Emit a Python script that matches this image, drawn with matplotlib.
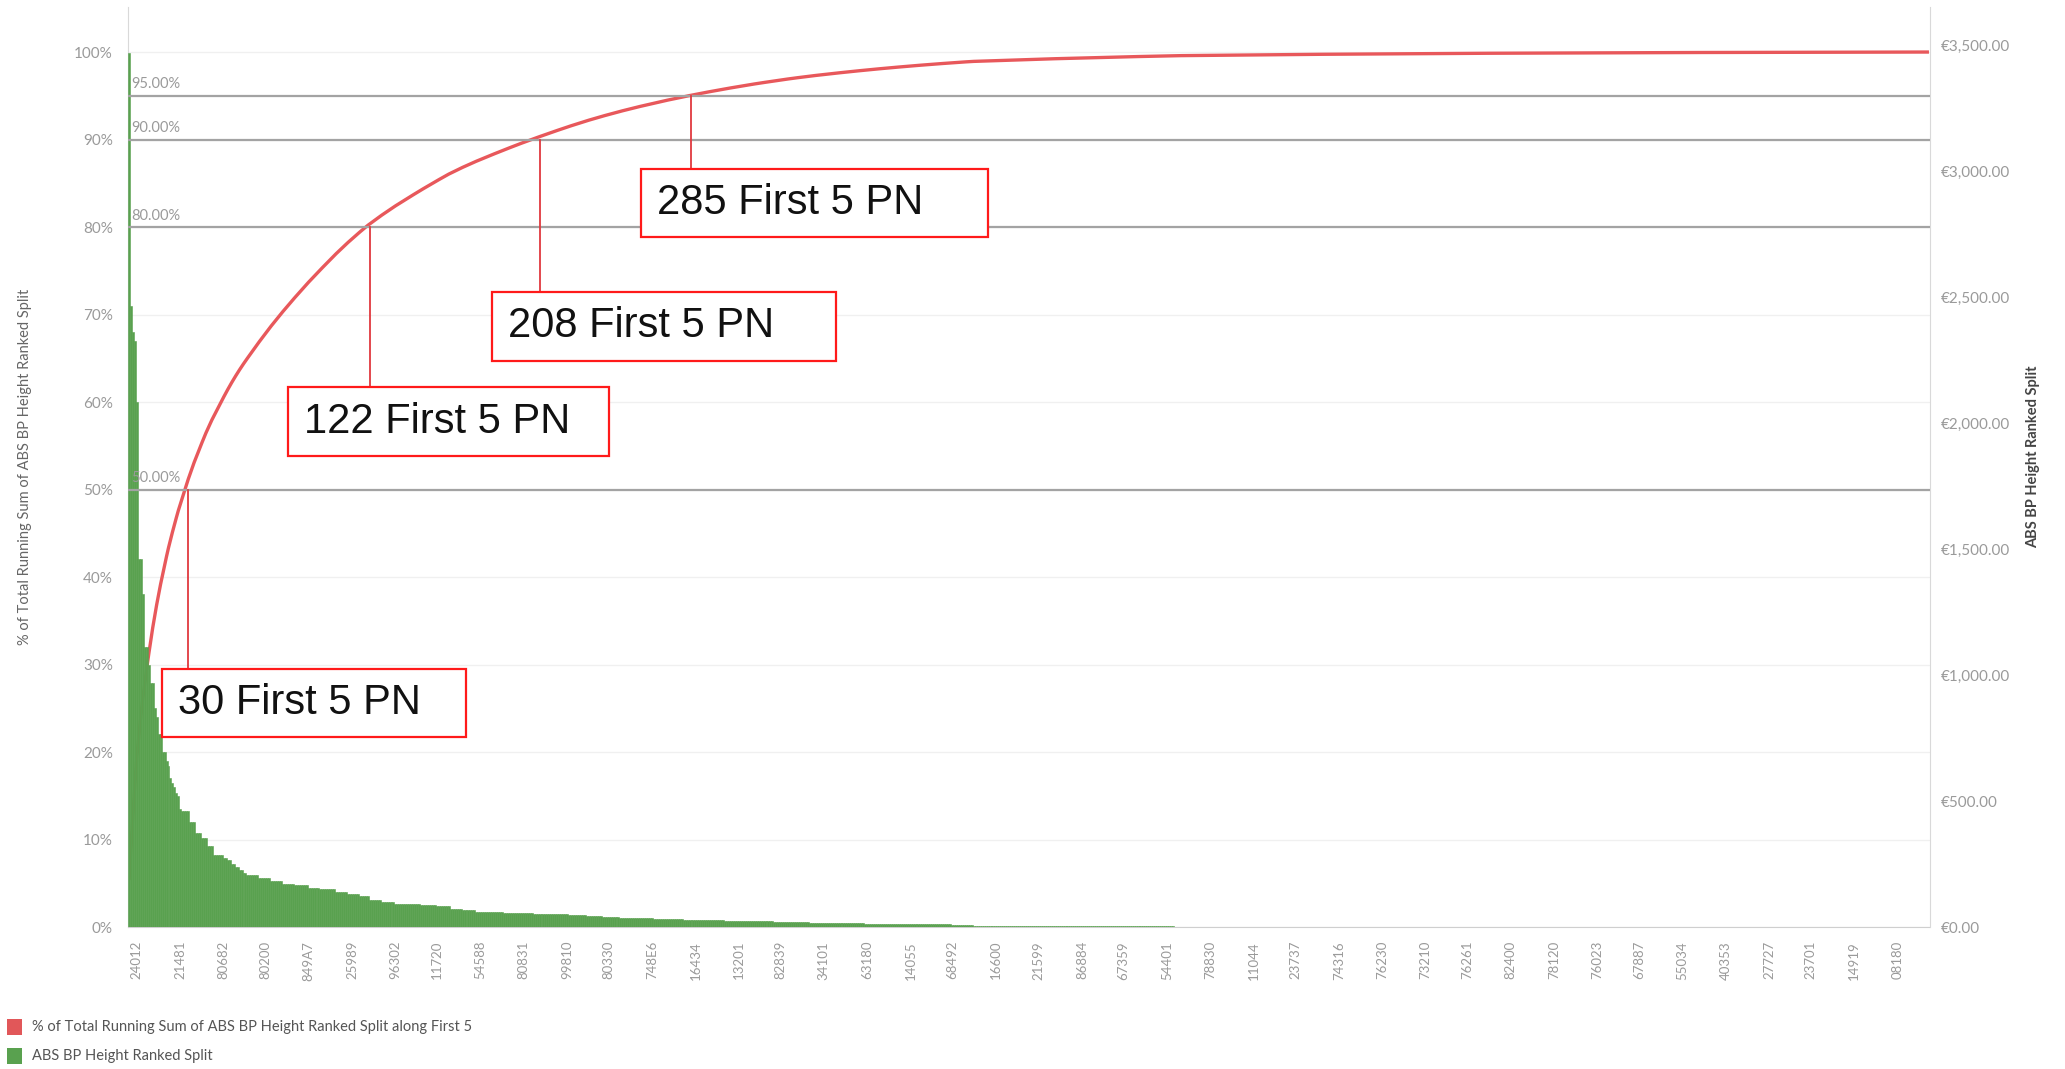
import numpy as np
import matplotlib.pyplot as plt
from matplotlib.patches import Rectangle
from matplotlib.ticker import FuncFormatter

plt.rcParams['font.family'] = ['Lato', 'DejaVu Sans']

# ABS BP Height Ranked Split (EUR), ranked high -> low.
bar_levels = [3470, 2465, 2360, 2325, 2085, 1460, 1320, 1110, 1040, 970,
              870, 835, 765, 695, 660, 640, 590, 570, 555, 530,
              520, 470, 460, 415, 375, 355, 320, 285, 275, 265,
              250, 238, 226, 214, 205, 195, 182, 172, 165, 155,
              150, 140, 130, 122, 108, 100, 92, 90, 86, 82,
              72, 66, 61, 59, 57, 54, 52, 50, 47, 43,
              40, 37, 34, 33, 31, 29, 27, 25, 24, 22,
              21, 19, 17, 16, 15, 14, 13, 12, 11, 10,
              5, 4, 3.5, 1.5, 1.0, 0.6, 0.3]
bar_runs = [1, 1, 1, 1, 1, 2, 1, 2, 1, 2,
            1, 1, 2, 2, 1, 1, 1, 1, 1, 1,
            1, 1, 4, 3, 3, 3, 3, 5, 2, 2,
            2, 2, 2, 2, 6, 6, 6, 6, 7, 6,
            8, 6, 6, 5, 6, 7, 6, 7, 8, 7,
            6, 7, 6, 8, 8, 7, 9, 9, 9, 8,
            9, 9, 8, 8, 7, 10, 11, 8, 9, 8,
            9, 9, 8, 10, 10, 10, 11, 11, 12, 11,
            34, 34, 34, 60, 80, 100, 143]

# part numbers shown on the x axis (every ~22nd part)
tick_labels = ['24012', '21481', '80682', '80200', '849A7', '25989', '96302',
               '11720', '54588', '80831', '99810', '80330', '748E6', '16434',
               '13201', '82839', '34101', '63180', '14055', '68492', '16600',
               '21599', '86884', '67359', '54401', '78830', '11044', '23737',
               '74316', '76230', '73210', '76261', '82400', '78120', '76023',
               '67887', '55034', '40353', '27727', '23701', '14919', '08180']

# reference lines and the number of parts needed to reach them
ref_levels = [0.50, 0.80, 0.90, 0.95]
ref_counts = [30, 122, 208, 285]

# annotation box layout (part index / share of total)
box_left = [16.7, 80.6, 183.9, 259.4]
box_width = [154.0, 162.6, 174.3, 175.8]
box_bottom = [0.217, 0.538, 0.647, 0.789]
box_height = [0.078, 0.079, 0.079, 0.077]

values = np.repeat(bar_levels, bar_runs).astype(float)
n = len(values)
idx = np.arange(n)
running = np.cumsum(values) / values.sum()

eur_per_unit = 3472.0
top = 1.0514
green = '#59a14f'

fig = plt.figure(figsize=(20.65, 10.69), dpi=100)
fig.patch.set_facecolor('white')
ax = fig.add_axes([0.062, 0.1328, 0.8726, 0.8606])
ax2 = ax.twinx()

# running % line sits behind the bars (as in the original)
ax.plot(idx, running, color='#e8585b', lw=2.4, zorder=2, solid_capstyle='butt')
edges = [green if v > 2 else 'none' for v in values]
ax2.bar(idx, values, width=1.0, color=green, edgecolor=edges, lw=0.4, zorder=2)

ax.set_xlim(-0.5, n - 0.5)
ax.set_ylim(0, top)
ax2.set_ylim(0, top * eur_per_unit)

# grid
ax.set_yticks(np.arange(0, 1.01, 0.1))
ax.yaxis.set_major_formatter(FuncFormatter(lambda v, p: f"{v:.0%}"))
ax.grid(axis='y', color='#f0f0f0', lw=1)
ax.set_axisbelow(True)

ax2.set_yticks(np.arange(0, 3501, 500))
ax2.yaxis.set_major_formatter(FuncFormatter(lambda v, p: f"€{v:,.2f}"))

tick_idx = np.round(np.linspace(4, 896, len(tick_labels))).astype(int)
ax.set_xticks(tick_idx)
ax.set_xticklabels(tick_labels, rotation=90)

ax.tick_params(axis='y', length=0, pad=11, labelcolor='#9a9a9a', labelsize=11)
ax2.tick_params(axis='y', length=0, pad=8, labelcolor='#9a9a9a', labelsize=11)
ax.tick_params(axis='x', length=0, pad=10, labelcolor='#9a9a9a', labelsize=9.5)

for s in ['top', 'right']:
    ax.spines[s].set_visible(False)
ax.spines['left'].set_color('#d9d9d9')
ax.spines['bottom'].set_color('#cfcfcf')
ax.spines['bottom'].set_linestyle((0, (1, 1)))
for s in ['top', 'left', 'bottom']:
    ax2.spines[s].set_visible(False)
ax2.spines['right'].set_color('#d9d9d9')

# reference lines with labels
for lvl in ref_levels:
    ax2.plot([-0.5, n - 0.5], [lvl, lvl], transform=ax.transData,
             color='#a3a3a3', lw=1.6, zorder=4)
    ax2.text(1.0, lvl + 0.005, f"{lvl:.2%}", transform=ax.transData,
             color='#9a9a9a', fontsize=10.5, ha='left', va='bottom', zorder=4)

# annotations: leader line + red box
for cnt, lvl, bl, bw, bb, bh in zip(ref_counts, ref_levels, box_left,
                                    box_width, box_bottom, box_height):
    ax2.plot([cnt, cnt], [lvl, bb + bh], transform=ax.transData,
             color='#e0393f', lw=1.3, zorder=5)
    ax2.add_patch(Rectangle((bl, bb), bw, bh, transform=ax.transData,
                            facecolor='white', edgecolor='#ff1a1a', lw=1.6,
                            zorder=6))
    ax2.text(bl + 8, bb + bh / 2, f"{cnt} First 5 PN", transform=ax.transData,
             family='Liberation Sans', fontsize=30, color='#111111',
             ha='left', va='center', zorder=7)

# axis titles
fig.text(0.0121, 0.563, '% of Total Running Sum of ABS BP Height Ranked Split',
         rotation=90, ha='center', va='center', fontsize=10.5, color='#666666')
fig.text(0.9845, 0.573, 'ABS BP Height Ranked Split', rotation=90,
         ha='center', va='center', fontsize=10.5, color='#444444',
         fontweight='bold')

# legend
legend_items = ['% of Total Running Sum of ABS BP Height Ranked Split along First 5',
                'ABS BP Height Ranked Split']
legend_colors = ['#e15759', green]
for i, (lab, col) in enumerate(zip(legend_items, legend_colors)):
    y = 0.0318 - i * 0.0271
    fig.patches.append(Rectangle((0.0034, y), 0.0073, 0.015, transform=fig.transFigure,
                                 facecolor=col, edgecolor='none'))
    fig.text(0.0155, y + 0.0075, lab, ha='left', va='center', fontsize=10.5,
             color='#555555')

fig.savefig('out.png', dpi=100)
